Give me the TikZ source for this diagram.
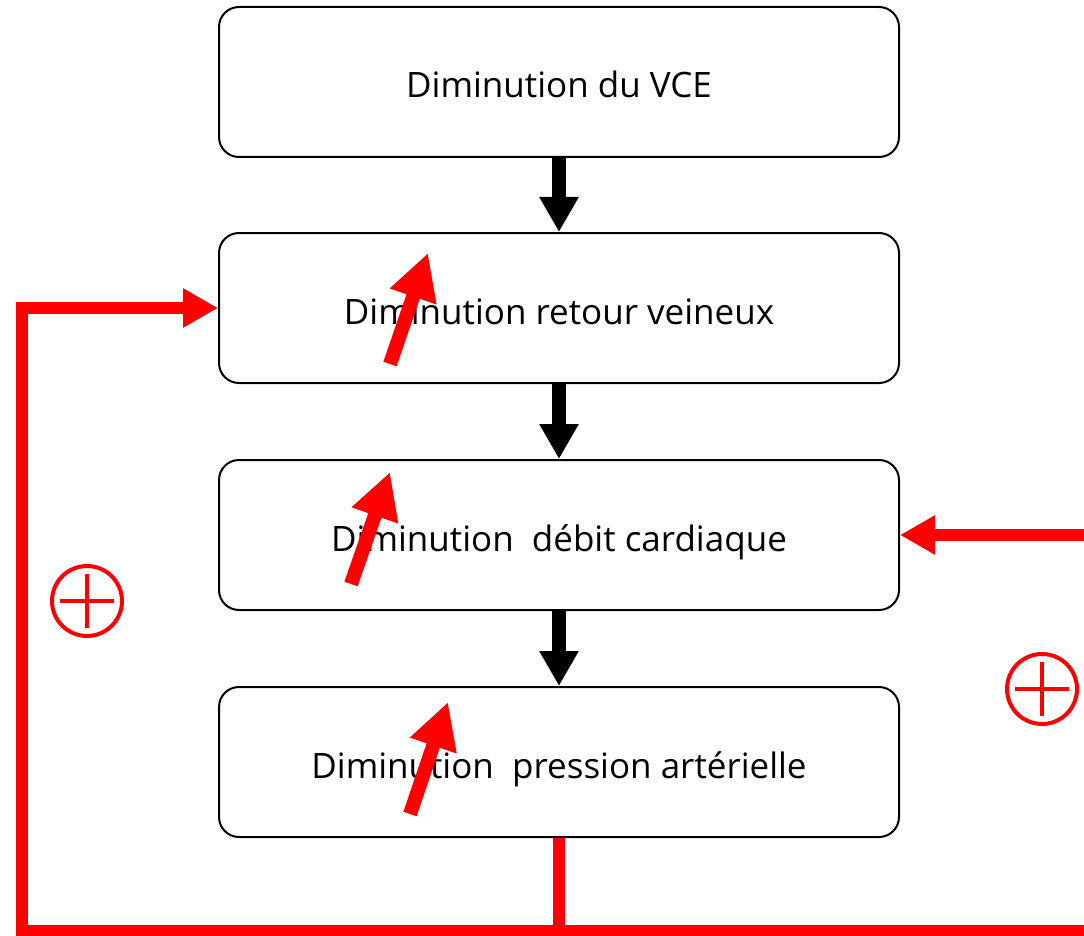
\documentclass[tikz,border=0pt]{standalone}
\usepackage{fontspec}
\setmainfont{Open Sans}
\usetikzlibrary{arrows.meta}

\tikzset{
  etape/.style={draw=black, line width=2pt, fill=white, rounded corners=20pt,
    minimum width=680pt, minimum height=150pt, inner sep=0pt,
    text height=32pt, text depth=0pt,
    font=\fontsize{35}{42}\selectfont},
  fleche/.style={line width=14pt, -{Triangle[length=35pt,width=37pt]}},
  retour/.style={draw=red, line width=12pt, -{Triangle[length=35pt,width=37pt]}},
  hausse/.style={red, line width=14pt, -{Triangle[length=46pt,width=46pt]}},
  signe/.style={circle, draw=red, line width=4pt, minimum size=70pt, inner sep=0pt},
}

\begin{document}
\begin{tikzpicture}[x=1pt, y=-1pt]
	\clip (0,0) rectangle (1084,936);
	\node [etape] (1) at (559, 82) {Diminution du VCE};
	\node [etape] (2) at (559, 308) {Diminution retour veineux};
	\node [etape] (3) at (559, 535) {Diminution~ débit cardiaque};
	\node [etape] (4) at (559, 762) {Diminution~ pression artérielle};
	\draw [fleche] (1.south) -- (2.north);
	\draw [fleche] (2.south) -- (3.north);
	\draw [fleche] (3.south) -- (4.north);
	% boucles de retour
	\coordinate (g) at (22, 931);
	\coordinate (d) at (1100, 931);
	\draw [retour] (4.south) |- (g) |- (2.west);
	\draw [retour] (4.south) |- (d) |- (3.east);
	% fleches de hausse
	\draw [hausse] (390, 364) -- (428, 253);
	\draw [hausse] (351, 584) -- (390, 472);
	\draw [hausse] (410, 814) -- (448, 702);
	% signes plus
	\node [signe] (p1) at (87, 601) {};
	\node [signe] (p2) at (1042, 689) {};
	\draw [red, line width=4pt] ([xshift=-27pt]p1.center) -- ([xshift=27pt]p1.center) ([yshift=-27pt]p1.center) -- ([yshift=27pt]p1.center);
	\draw [red, line width=4pt] ([xshift=-27pt]p2.center) -- ([xshift=27pt]p2.center) ([yshift=-27pt]p2.center) -- ([yshift=27pt]p2.center);
\end{tikzpicture}
\end{document}
